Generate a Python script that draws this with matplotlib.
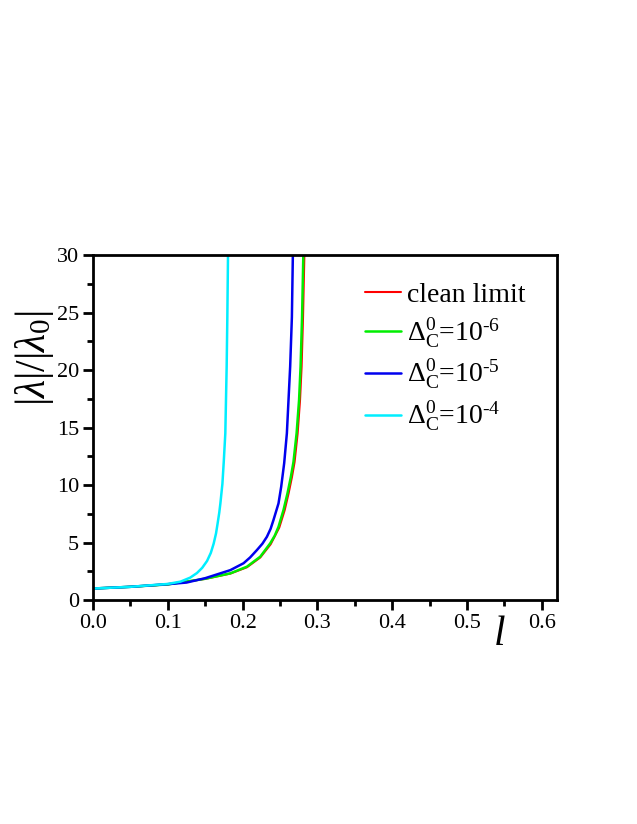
import numpy as np
import matplotlib
matplotlib.use("Agg")
import matplotlib.pyplot as plt
from matplotlib.ticker import MultipleLocator, FormatStrFormatter

plt.rcParams['font.family'] = ['Liberation Serif', 'DejaVu Serif']
plt.rcParams['mathtext.fontset'] = 'custom'
plt.rcParams['mathtext.rm'] = 'Liberation Serif'
plt.rcParams['mathtext.it'] = 'Liberation Serif:italic'
plt.rcParams['mathtext.bf'] = 'Liberation Serif:bold'

# values
l_clean = [0.0, 0.05, 0.1, 0.15, 0.1836, 0.2058, 0.2236, 0.2375, 0.249, 0.2562, 0.2615,
           0.266, 0.2695, 0.2736, 0.2768, 0.2789, 0.2808, 0.2826]
v_clean = [1.0, 1.15, 1.36, 1.84, 2.3, 2.85, 3.7, 4.85, 6.3, 7.8, 9.28,
           10.7, 12.0, 14.5, 17.4, 20.3, 24.6, 30.0]

l_m6 = [0.0, 0.05, 0.1, 0.15, 0.1836, 0.2058, 0.2236, 0.2369, 0.243, 0.248, 0.2547, 0.26,
        0.2645, 0.268, 0.2722, 0.2755, 0.2775, 0.2795, 0.2812]
v_m6 = [1.0, 1.15, 1.36, 1.85, 2.32, 2.9, 3.77, 4.93, 5.6, 6.37, 7.83, 9.28,
        10.7, 12.0, 14.5, 17.4, 20.3, 24.6, 30.0]

l_m5 = [0.0, 0.05, 0.1, 0.125, 0.15, 0.1836, 0.2013, 0.21, 0.2192, 0.2265, 0.2325, 0.2375,
        0.2413, 0.248, 0.2516, 0.2556, 0.2592, 0.2614, 0.2636, 0.2659, 0.2672]
v_m5 = [1.0, 1.15, 1.38, 1.52, 1.9, 2.6, 3.2, 3.7, 4.35, 4.9, 5.5, 6.2,
        6.96, 8.4, 9.85, 11.9, 14.5, 17.4, 20.3, 24.6, 30.0]

l_m4 = [0.0, 0.05, 0.1, 0.117, 0.13, 0.139, 0.146, 0.1525, 0.1575, 0.1613, 0.1645, 0.1667,
        0.1688, 0.1703, 0.173, 0.1748, 0.1769, 0.1778, 0.1787, 0.1796, 0.1805]
v_m4 = [1.0, 1.15, 1.4, 1.6, 1.95, 2.35, 2.8, 3.4, 4.1, 4.9, 5.8, 6.7,
        7.6, 8.4, 10.1, 12.0, 14.5, 17.4, 20.3, 24.6, 30.0]

labels = ['clean limit',
          r'$\Delta^{0}_{\mathrm{C}}$=10$^{\text{-6}}$',
          r'$\Delta^{0}_{\mathrm{C}}$=10$^{\text{-5}}$',
          r'$\Delta^{0}_{\mathrm{C}}$=10$^{\text{-4}}$']

fig = plt.figure(figsize=(6.37, 8.24), dpi=100)
ax = fig.add_axes([0.146, 0.2718, 0.728, 0.4187])

kw = dict(solid_joinstyle='round', solid_capstyle='round')
ax.plot(l_clean, v_clean, color='#ff0000', lw=1.5, label=labels[0], **kw)
ax.plot(l_m6, v_m6, color='#00ee00', lw=1.8, label=labels[1], **kw)
ax.plot(l_m5, v_m5, color='#0000ee', lw=1.8, label=labels[2], **kw)
ax.plot(l_m4, v_m4, color='#00eeff', lw=1.8, label=labels[3], **kw)

ax.set_xlim(0, 0.62)
ax.set_ylim(0, 30)
ax.xaxis.set_major_locator(MultipleLocator(0.1))
ax.xaxis.set_minor_locator(MultipleLocator(0.05))
ax.yaxis.set_major_locator(MultipleLocator(5))
ax.yaxis.set_minor_locator(MultipleLocator(2.5))
ax.xaxis.set_major_formatter(FormatStrFormatter('%.1f'))

ax.tick_params(which='major', direction='out', length=7, width=2, labelsize=16, pad=3)
ax.tick_params(which='minor', direction='out', length=4, width=2)
ax.tick_params(top=False, right=False)
for s in ax.spines.values():
    s.set_linewidth(2)

ax.set_ylabel(r'$|\lambda|/|\lambda_{0}|$', fontsize=30)
ax.yaxis.set_label_coords(-0.08, 0.70)
ax.text(0.877, -0.1, r'$l$', transform=ax.transAxes, fontsize=30, ha='center', va='center')

leg = ax.legend(loc='upper right', bbox_to_anchor=(0.974, 0.977), frameon=False, fontsize=20,
                handlelength=1.3, handletextpad=0.2, labelspacing=0.3, borderaxespad=0.3)

fig.savefig('out.png', dpi=100)
